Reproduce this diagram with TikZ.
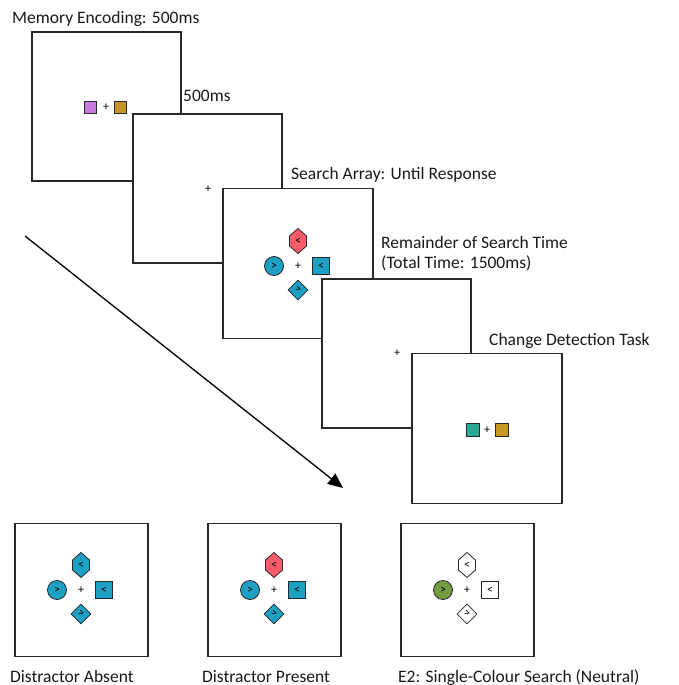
\documentclass[tikz,border=0pt]{standalone}
\usepackage{fontspec}
\setmainfont{Carlito}
\usepackage{xcolor}
\usepackage{tikz}
\usetikzlibrary{shapes,arrows.meta,positioning,calc}

\definecolor{itemblue}{RGB}{30,160,196}
\definecolor{itemred}{RGB}{250,92,108}
\definecolor{itempurple}{RGB}{200,125,222}
\definecolor{itemgold}{RGB}{200,150,35}
\definecolor{itemteal}{RGB}{40,170,150}
\definecolor{itemgreen}{RGB}{115,155,65}
\definecolor{framegray}{RGB}{40,40,40}

\tikzset{
  screen/.style={draw=framegray, fill=white, line width=1.2pt, inner sep=0pt},
  phaselabel/.style={anchor=base west, inner sep=0pt, font=\fontsize{17.5}{20}\selectfont, text=black!90},
  sym/.style={font=\fontsize{12}{12}\selectfont, inner sep=0pt},
  fix/.style={font=\fontsize{12}{12}\selectfont, inner sep=0pt},
  item/.style={draw=framegray, line width=0.8pt},
  pics/searcharray/.style args={#1/#2/#3/#4}{code={
    \path[item, fill=#1] (0,-37.5) -- (8.5,-30) -- (8.5,-20) -- (0,-12.5)
      -- (-8.5,-20) -- (-8.5,-30) -- cycle;
    \node[sym] (-hex) at (0,-25) {<};
    \node[item, sym, circle, fill=#2, minimum size=19pt] (-circ) at (-24,0) {>};
    \node[item, sym, fill=#3, minimum size=17pt] (-sq) at (23,0) {<};
    \node[item, sym, fill=#4, minimum size=14pt, rotate=-45] (-dia) at (0,24) {};
    \node[sym, rotate=-20] (-dia-txt) at (0,24) {>};
    \node[fix] (-fix) at (0,0) {+};
  }}
}

\begin{document}
\begin{tikzpicture}[x=1pt, y=-1pt]
    \useasboundingbox (0,0) rectangle (679,685);

    % Trial sequence
    \node [screen, minimum size=149pt] (enc) at (106.5,106.5) {};
    \node [item, fill=itempurple, minimum size=12pt] (enc-a) at (90.5,107) {};
    \node [fix] (enc-fix) at (106,107) {+};
    \node [item, fill=itemgold, minimum size=12pt] (enc-b) at (120.5,107) {};
    \node [phaselabel] (enc-lbl) at (12,24) {Memory Encoding: 500ms};

    \node [screen, minimum size=149pt] (isi) at (207.5,188.5) {};
    \node [fix] (isi-fix) at (208,189) {+};
    \node [phaselabel] (isi-lbl) at (183,101) {500ms};

    \node [screen, minimum size=150pt] (srch) at (298,263.5) {};
    \pic (srch) at (298,266) {searcharray={itemred/itemblue/itemblue/itemblue}};
    \node [phaselabel] (srch-lbl) at (291,179) {Search Array: Until Response};

    \node [screen, minimum size=149pt] (rem) at (396.5,353.5) {};
    \node [fix] (rem-fix) at (397,353) {+};
    \node [phaselabel] (rem-lbl) at (381,248) {Remainder of Search Time};
    \node [phaselabel] (rem-lbl2) at (381,268) {(Total Time: 1500ms)};

    \node [screen, minimum size=150pt] (test) at (487,428.5) {};
    \node [item, fill=itemteal, minimum size=13pt] (test-a) at (473,430) {};
    \node [fix] (test-fix) at (487,430) {+};
    \node [item, fill=itemgold, minimum size=13pt] (test-b) at (502,430) {};
    \node [phaselabel] (test-lbl) at (489,345) {Change Detection Task};

    % Arrow to the conditions
    \coordinate (arr-start) at (25,236);
    \coordinate (arr-end) at (343,488);
    \draw [line width=1.3pt, -{Triangle[length=15pt,width=13pt]}] (arr-start) -- (arr-end);

    % Conditions
    \node [screen, minimum size=133pt] (absent) at (81.5,590) {};
    \pic (absent) at (81,590) {searcharray={itemblue/itemblue/itemblue/itemblue}};
    \node [phaselabel] (absent-lbl) at (10,682) {Distractor Absent};

    \node [screen, minimum size=133pt] (present) at (274.5,590) {};
    \pic (present) at (274,590) {searcharray={itemred/itemblue/itemblue/itemblue}};
    \node [phaselabel] (present-lbl) at (202,682) {Distractor Present};

    \node [screen, minimum size=133pt] (neutral) at (467.5,590) {};
    \pic (neutral) at (467,590) {searcharray={white/itemgreen/white/white}};
    \node [phaselabel] (neutral-lbl) at (398,682) {E2: Single-Colour Search (Neutral)};
\end{tikzpicture}
\end{document}
